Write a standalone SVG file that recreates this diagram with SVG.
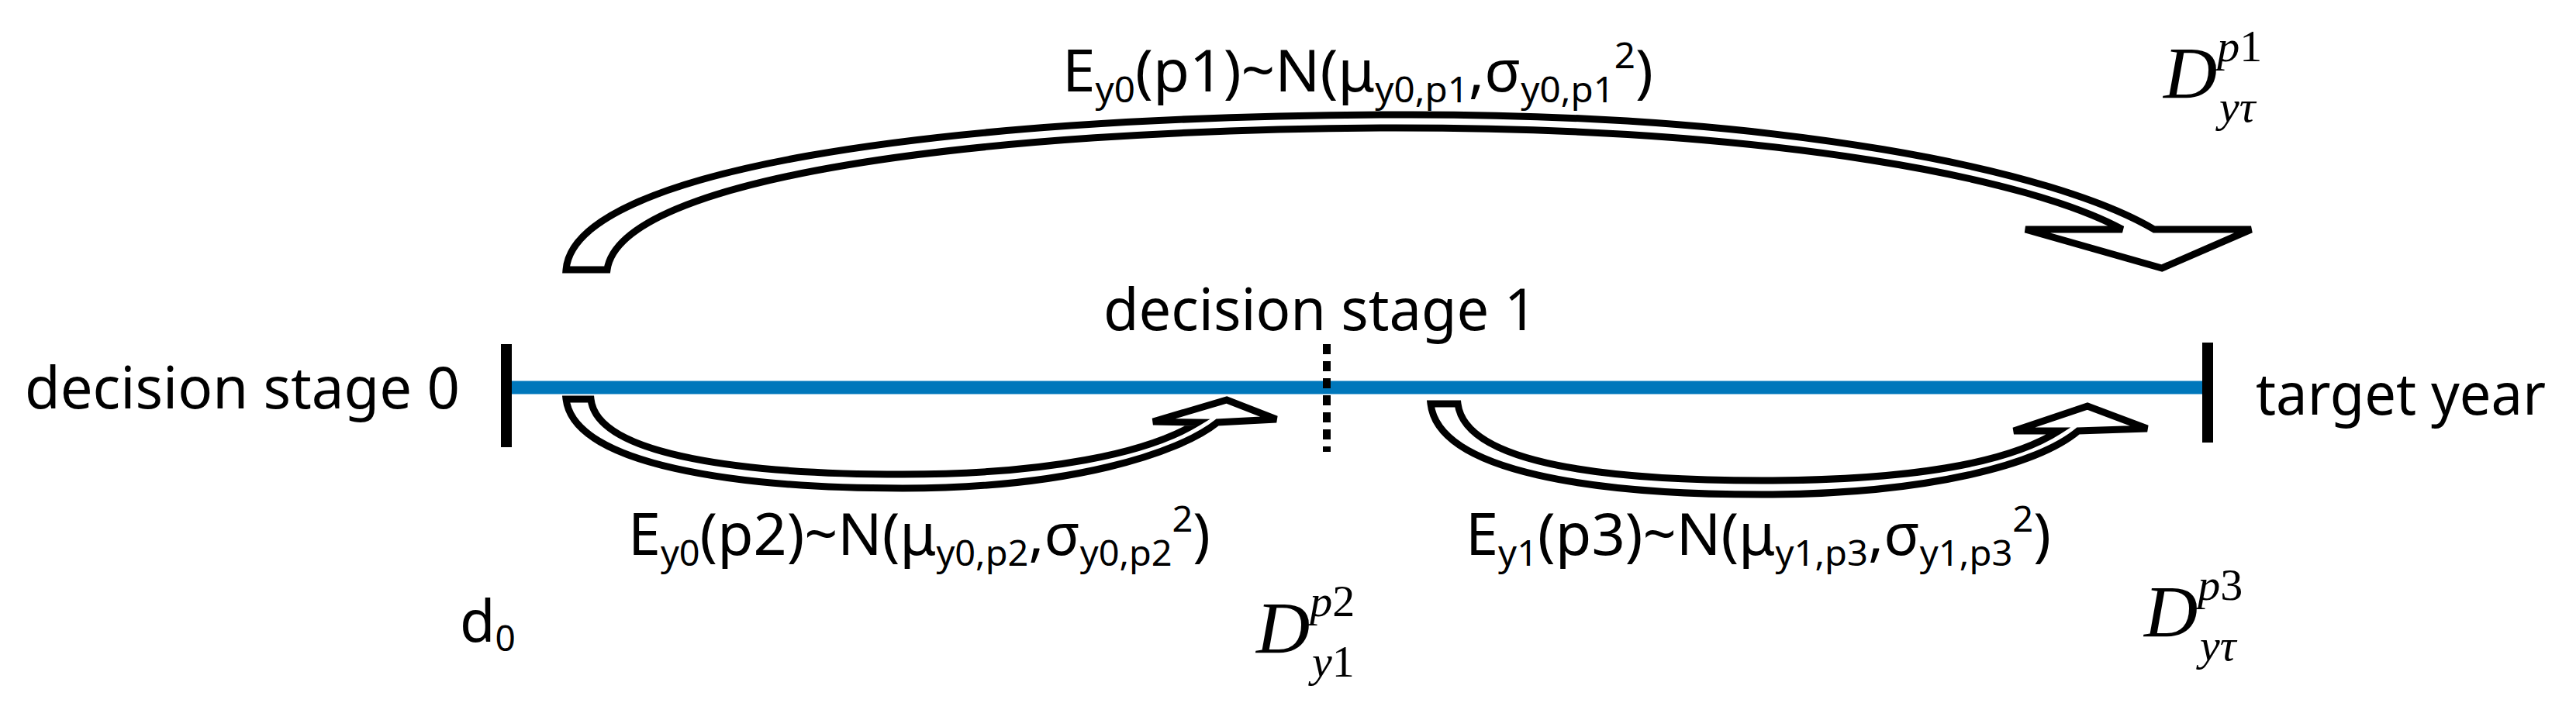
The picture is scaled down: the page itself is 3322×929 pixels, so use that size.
<svg xmlns="http://www.w3.org/2000/svg" width="3322" height="929" viewBox="0 0 3322 929">
<style>
.t{font-family:"Noto Sans","Open Sans",sans-serif;font-size:74px;fill:#000}
.s{font-size:46px}
.m{font-family:"Liberation Serif",serif;font-style:italic;fill:#000;font-size:96px}
.ms{font-size:58px}
.arr{fill:#fff;stroke:#000;stroke-width:9;stroke-linejoin:miter}
</style>
<rect width="3322" height="929" fill="#fff"/>
<g id="timeline">
<line x1="653" y1="500" x2="2847" y2="500" stroke="#0077bb" stroke-width="17"/>
<line x1="653" y1="444" x2="653" y2="577" stroke="#000" stroke-width="14"/>
<line x1="1711" y1="444" x2="1711" y2="583" stroke="#000" stroke-width="10" stroke-dasharray="13,9"/>
<line x1="2847" y1="442" x2="2847" y2="571" stroke="#000" stroke-width="14"/>
</g>
<g id="labels">
<text class="t" x="32" y="527" textLength="561" lengthAdjust="spacingAndGlyphs">decision stage 0</text>
<text class="t" x="1423" y="426" textLength="559" lengthAdjust="spacingAndGlyphs">decision stage 1</text>
<text class="t" x="2909" y="535" textLength="374" lengthAdjust="spacingAndGlyphs">target year</text>
<text class="t" x="593" y="828">d<tspan class="s" dy="12">0</tspan></text>
</g>
<g id="connectors">
<path class="arr" d="M730,348 C740,220 1200,150 1800,148 C2300,146 2650,220 2778,296 L2903,296 L2788,346 L2612,296 L2737,296 C2620,232 2300,165 1800,165 C1250,167 800,230 783,348 Z"/>
<path class="arr" d="M730,515 C740,600 950,630 1164,630 C1380,630 1520,585 1570,545 L1646,541 L1582,516 L1487,544 L1545,545 C1480,585 1350,612 1164,612 C970,612 770,590 762,515 Z"/>
<path class="arr" d="M1845,521 C1855,610 2060,638 2272,638 C2490,638 2630,598 2680,556 L2769,553 L2692,524 L2597,556 L2655,556 C2590,598 2460,620 2272,620 C2080,620 1890,600 1880,521 Z"/>
</g>
<g id="formulas">
<text class="t" x="1370" y="118" textLength="762" lengthAdjust="spacingAndGlyphs">E<tspan class="s" dy="14">y0</tspan><tspan dy="-14">(p1)~N(μ</tspan><tspan class="s" dy="14">y0,p1</tspan><tspan dy="-14">,σ</tspan><tspan class="s" dy="14">y0,p1</tspan><tspan class="s" dy="-44">2</tspan><tspan dy="30">)</tspan></text>
<text class="t" x="810" y="716" textLength="751" lengthAdjust="spacingAndGlyphs">E<tspan class="s" dy="14">y0</tspan><tspan dy="-14">(p2)~N(μ</tspan><tspan class="s" dy="14">y0,p2</tspan><tspan dy="-14">,σ</tspan><tspan class="s" dy="14">y0,p2</tspan><tspan class="s" dy="-44">2</tspan><tspan dy="30">)</tspan></text>
<text class="t" x="1890" y="716" textLength="755" lengthAdjust="spacingAndGlyphs">E<tspan class="s" dy="14">y1</tspan><tspan dy="-14">(p3)~N(μ</tspan><tspan class="s" dy="14">y1,p3</tspan><tspan dy="-14">,σ</tspan><tspan class="s" dy="14">y1,p3</tspan><tspan class="s" dy="-44">2</tspan><tspan dy="30">)</tspan></text>
<text class="m" x="2790" y="127">D<tspan class="ms" dy="-48">p</tspan><tspan class="ms" font-style="normal">1</tspan><tspan class="ms" x="2862" dy="78">yτ</tspan></text>
<text class="m" x="1620" y="843">D<tspan class="ms" dy="-48">p</tspan><tspan class="ms" font-style="normal">2</tspan><tspan class="ms" x="1692" dy="78">y</tspan><tspan class="ms" font-style="normal">1</tspan></text>
<text class="m" x="2765" y="822">D<tspan class="ms" dy="-48">p</tspan><tspan class="ms" font-style="normal">3</tspan><tspan class="ms" x="2837" dy="78">yτ</tspan></text>
</g>
</svg>
